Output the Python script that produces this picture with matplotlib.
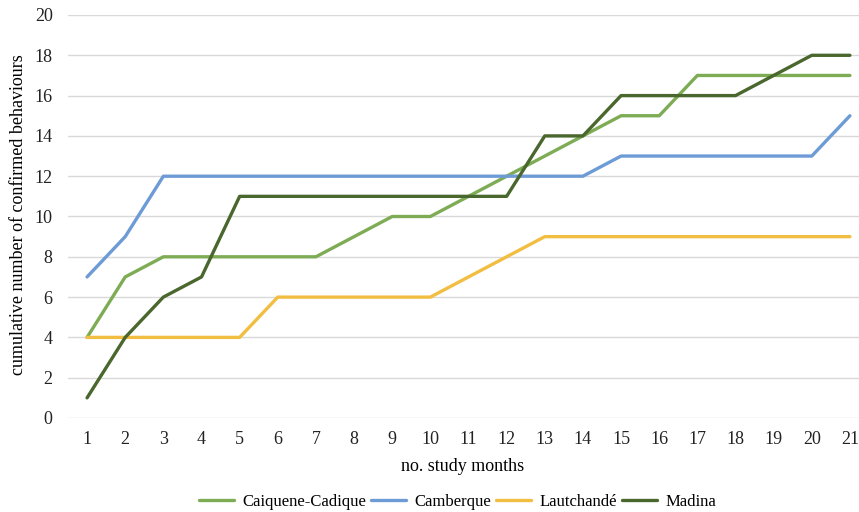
import matplotlib.pyplot as plt
import numpy as np

plt.rcParams['font.family'] = ['Liberation Serif', 'DejaVu Serif']

months = list(range(1, 22))
caiquene = [4, 7, 8, 8, 8, 8, 8, 9, 10, 10, 11, 12, 13, 14, 15, 15, 17, 17, 17, 17, 17]
camberque = [7, 9, 12, 12, 12, 12, 12, 12, 12, 12, 12, 12, 12, 12, 13, 13, 13, 13, 13, 13, 15]
lautchande = [4, 4, 4, 4, 4, 6, 6, 6, 6, 6, 7, 8, 9, 9, 9, 9, 9, 9, 9, 9, 9]
madina = [1, 4, 6, 7, 11, 11, 11, 11, 11, 11, 11, 11, 14, 14, 16, 16, 16, 16, 17, 18, 18]

names = ['Caiquene-Cadique', 'Camberque', 'Lautchandé', 'Madina']
colors = ['#7eac55', '#6d9bd5', '#f2be42', '#4a672e']

fig = plt.figure(figsize=(8.59, 5.12), dpi=100)
ax = fig.add_axes([68 / 859, (512 - 418) / 512, 801 / 859, 403 / 512])

for series, name, c in zip([caiquene, camberque, lautchande, madina], names, colors):
    ax.plot(months, series, color=c, linewidth=2.4, label=name, solid_capstyle='round')

ax.set_xlim(0.5, 21.5)
ax.set_ylim(0, 20)
ax.set_xticks(months)
ax.set_yticks(np.arange(0, 21, 2))
ax.yaxis.grid(True, color='#d9d9d9', linewidth=1)
ax.set_axisbelow(True)
for s in ax.spines.values():
    s.set_visible(False)
ax.tick_params(length=0, labelsize=13, colors='#222222')
ax.tick_params(axis='y', pad=11)
ax.tick_params(axis='x', pad=9)
ax.set_xlabel('no. study months', fontsize=13, va='center')
ax.xaxis.set_label_coords(0.492, -0.12)
ax.set_ylabel('cumulative number of confirmed behaviours', fontsize=13, va='center')
ax.yaxis.set_label_coords(-0.062, 0.505)

ax.legend(loc='center', bbox_to_anchor=(0.486, -0.208), ncol=4, frameon=False,
          fontsize=12, handlelength=2.1, columnspacing=0.3, handletextpad=0.5)

fig.savefig('out.png', dpi=100)
